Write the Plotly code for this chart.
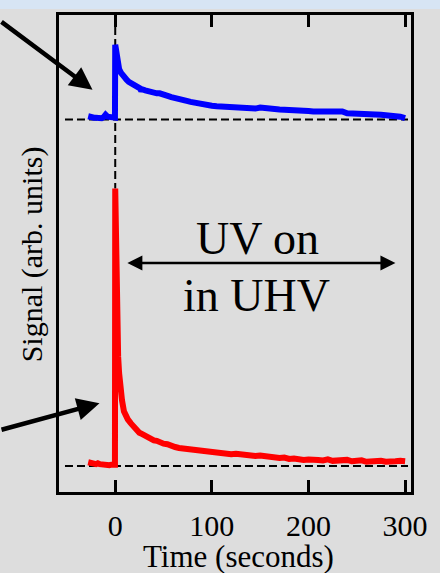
import plotly.graph_objects as go

# ---- data -------------------------------------------------------------
# time axis (seconds) and tick labels
tick_vals = [0, 100, 200, 300]
tick_text = ["0", "100", "200", "300"]

# blue trace (upper), signal relative to its own baseline
blue_t = [-28, -26, -24, -22, -20, -18, -16, -14, -12, -10, -8, -6, -4, -2, -0.3,
          0, 1, 2, 3, 4, 6, 8, 10, 12, 14, 17, 20, 23, 26, 27, 28, 31, 34, 37, 40,
          43, 46, 49, 52, 55, 58, 61, 64, 67, 70, 74, 78, 82, 86, 90, 95, 100,
          105, 110, 115, 120, 125, 130, 135, 140, 145, 150, 155, 160, 165, 170,
          175, 180, 185, 190, 195, 200, 205, 210, 215, 220, 225, 230, 235, 240,
          245, 250, 255, 260, 265, 270, 275, 280, 285, 290, 295, 300]
blue_sig = [0.7, 0.5, 0.3, 0.4, 0.4, 0.3, 0.5, 0.3, 0.5, 1.0, 0.6, 0.5, 0.4, 0.3, 0.4,
            15.7, 14.2, 12.3, 11.2, 10.6, 9.8, 9.1, 8.6, 8.3, 7.9, 7.5, 7.0, 6.6, 6.5, 5.9, 6.3, 6.1, 5.9, 5.9, 5.7,
            5.5, 5.5, 5.2, 5.0, 4.9, 4.7, 4.6, 4.3, 4.2, 4.1, 3.9, 3.7, 3.5, 3.4, 3.2, 3.1, 2.9,
            2.8, 2.7, 2.7, 2.6, 2.5, 2.5, 2.4, 2.4, 2.3, 2.5, 2.3, 2.2, 2.2, 2.1,
            2.1, 2.0, 1.9, 1.9, 1.8, 1.8, 1.7, 1.7, 1.6, 1.6, 1.5, 1.5, 1.7, 1.3,
            1.3, 1.2, 1.2, 1.1, 1.1, 1.0, 1.0, 0.9, 0.9, 0.8, 0.6, 0.3]

# red trace (lower), signal relative to its own baseline
red_t = [-28, -26, -24, -22, -20, -18, -16, -14, -12, -10, -8, -6, -4, -2, -0.3,
         0, 1, 2, 3, 4, 5, 7, 9, 11, 13, 16, 19, 22, 25, 28, 31, 34, 37, 40,
         43, 46, 50, 54, 58, 62, 66, 70, 74, 78, 82, 86, 90, 95, 100, 105, 110,
         115, 120, 125, 130, 135, 140, 145, 150, 155, 160, 165, 170, 175, 180,
         185, 190, 195, 200, 205, 210, 215, 220, 225, 230, 235, 240, 245, 250,
         255, 260, 265, 270, 275, 280, 285, 290, 295, 300]
red_sig = [0.8, 0.6, 0.7, 0.5, 0.4, 0.6, 0.4, 0.3, 0.4, 0.2, 0.3, 0.2, 0.3, 0.2, 0.3,
           58.2, 42.0, 30.0, 23.0, 19.5, 17.0, 13.8, 11.5, 10.4, 9.8, 9.0, 8.3, 7.6, 7.0, 6.7, 6.3, 6.1, 5.6, 5.4,
           5.3, 4.9, 4.7, 4.6, 4.2, 4.0, 3.8, 3.7, 3.4, 3.3, 3.3, 3.1, 3.0, 3.0, 2.8, 2.7, 2.7,
           2.6, 2.5, 2.6, 2.4, 2.3, 2.3, 2.1, 2.2, 2.0, 1.9, 1.8, 1.7, 1.8, 1.5,
           1.6, 1.4, 1.3, 1.4, 1.2, 1.3, 1.2, 1.4, 1.1, 1.2, 1.1, 1.3, 1.0, 1.1,
           1.2, 0.9, 1.0, 0.8, 1.1, 0.9, 0.8, 1.0, 1.1, 1.0]

blue_offset = 72.65          # vertical offset separating the two traces
baseline_t = [-52, 303]      # extent of the dashed baselines
uv_span = [11, 290]          # "UV on" interval (s)

Y_RANGE = [-5.43, 94.57]

# ---- figure -----------------------------------------------------------
SERIF = "Liberation Serif, Times New Roman, serif"
fig = go.Figure()

# dashed baselines and t = 0 marker
for off in (blue_offset, 0):
    fig.add_trace(go.Scatter(x=baseline_t, y=[off, off], mode="lines",
                             line=dict(color="black", width=2, dash="8px,4px"),
                             hoverinfo="skip", showlegend=False))
fig.add_trace(go.Scatter(x=[0, 0], y=[Y_RANGE[1], max(red_sig)], mode="lines",
                         line=dict(color="black", width=2, dash="8px,4px"),
                         hoverinfo="skip", showlegend=False))

fig.add_trace(go.Scatter(x=blue_t, y=[v + blue_offset for v in blue_sig], mode="lines",
                         line=dict(color="#0000ff", width=6), showlegend=False))
fig.add_trace(go.Scatter(x=red_t, y=red_sig, mode="lines",
                         line=dict(color="#ff0000", width=6), showlegend=False))

# double-headed "UV on" arrow
uv_y = 42.6
fig.add_annotation(x=uv_span[1], y=uv_y, ax=uv_span[0], ay=uv_y, axref="x", ayref="y",
                   xref="x", yref="y", text="", showarrow=True,
                   arrowhead=2, arrowsize=1.2, arrowwidth=2.5, arrowcolor="black",
                   arrowside="end+start", startarrowhead=2, startarrowsize=1.2)
fig.add_annotation(x=147, y=47.7, xref="x", yref="y", text="UV on", showarrow=False,
                   font=dict(family=SERIF, size=46, color="black"),
                   xanchor="center", yanchor="middle")
fig.add_annotation(x=146, y=35.7, xref="x", yref="y", text="in UHV", showarrow=False,
                   font=dict(family=SERIF, size=46, color="black"),
                   xanchor="center", yanchor="middle")

# pointer arrows coming in from the left
fig.add_annotation(x=-23.5, y=78.9, xref="x", yref="y", ax=-105, ay=-69, text="",
                   showarrow=True, arrowhead=2, arrowsize=1.0, arrowwidth=4.5,
                   arrowcolor="black")
fig.add_annotation(x=-16.3, y=13.2, xref="x", yref="y", ax=-112, ay=27, text="",
                   showarrow=True, arrowhead=2, arrowsize=1.0, arrowwidth=4.5,
                   arrowcolor="black")

# axis titles
fig.add_annotation(x=0.51, y=-0.1357, xref="paper", yref="paper", text="Time (seconds)",
                   showarrow=False, font=dict(family=SERIF, size=31, color="black"),
                   xanchor="center", yanchor="middle")
fig.add_annotation(x=-0.0756, y=0.499, xref="paper", yref="paper",
                   text="Signal (arb. units)", textangle=-90, showarrow=False,
                   font=dict(family=SERIF, size=30, color="black"),
                   xanchor="center", yanchor="middle")

# light band along the top edge
fig.add_shape(type="rect", xref="paper", yref="paper", x0=-0.2, x1=1.1,
              y0=1.0125, y1=1.04, fillcolor="#d7e5f4", line_width=0, layer="below")

fig.update_xaxes(range=[-58.2, 306.1], tickvals=tick_vals, ticktext=tick_text,
                 ticks="inside", ticklen=12, tickwidth=3, tickcolor="black",
                 ticklabelstandoff=5,
                 showline=True, linewidth=3, linecolor="black", mirror="ticks",
                 showgrid=False, zeroline=False,
                 tickfont=dict(family=SERIF, size=30, color="black"))
fig.update_yaxes(range=Y_RANGE, showticklabels=False, ticks="",
                 showline=True, linewidth=3, linecolor="black", mirror=True,
                 showgrid=False, zeroline=False)

fig.update_layout(width=440, height=573,
                  margin=dict(l=59, r=24, t=13, b=81, pad=0),
                  paper_bgcolor="#dddddd", plot_bgcolor="rgba(0,0,0,0)",
                  showlegend=False)

fig.write_html("out.html")
